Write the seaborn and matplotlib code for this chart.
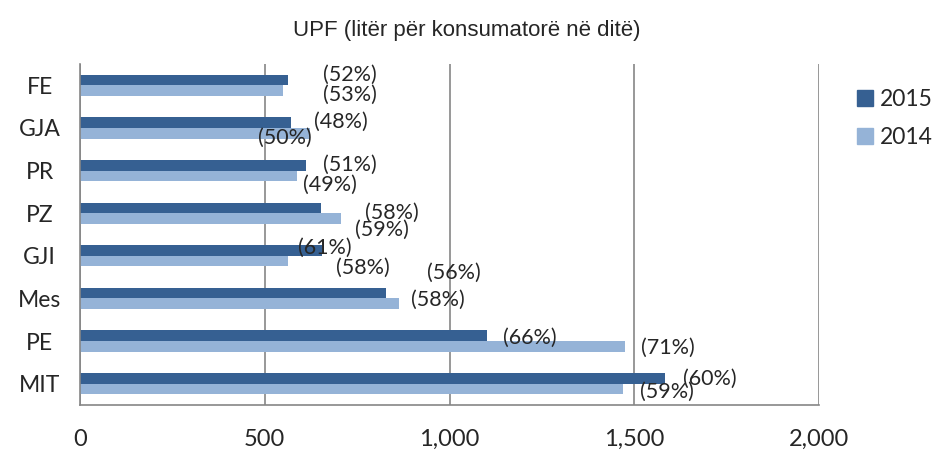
"""UPF sipas rajoneve, 2015 kundrejt 2014 (shiritat horizontalë)."""

import pandas as pd
import matplotlib.pyplot as plt
import seaborn as sns
import numpy as np

# Të dhënat
regjionet = ["FE", "GJA", "PR", "PZ", "GJI", "Mes", "PE", "MIT"]
vitet = ["2015", "2014"]
upf_2015 = [563, 571, 612, 652, 654, 828, 1100, 1583]
upf_2014 = [549, 622, 587, 706, 564, 862, 1475, 1469]
pct_2015 = [52, 48, 51, 58, 61, 56, 66, 60]
pct_2014 = [53, 50, 49, 59, 58, 58, 71, 59]
x_ticks = [0, 500, 1000, 1500, 2000]

# Zhvendosja e etiketave nga fundi i shiritit (piksel: djathtas, poshtë)
off_2015 = [(35, -5), (23, -1), (17, 0), (44, 5), (-24, -3), (41, -20), (16, 2), (18, 0)]
off_2014 = [(40, 4), (-52, 5), (6, 9), (14, 11), (48, 7), (12, -4), (16, 1), (17, 3)]

ngjyrat = {"2015": "#366092", "2014": "#95B3D7"}
gri = "#868686"

df = pd.DataFrame({
    "Rajoni": regjionet * 2,
    "Viti": ["2015"] * len(regjionet) + ["2014"] * len(regjionet),
    "UPF": upf_2015 + upf_2014,
})

sns.set_style("white")
plt.rcParams["font.family"] = ["Lato", "DejaVu Sans"]

fig = plt.figure(figsize=(9.34, 4.51), dpi=100)
ax = fig.add_axes([0.0857, 0.102, 0.7913, 0.756])

sns.barplot(data=df, y="Rajoni", x="UPF", hue="Viti", hue_order=vitet,
            order=regjionet, orient="h", width=0.5, palette=ngjyrat,
            saturation=1, linewidth=0, errorbar=None, legend=False, ax=ax)

ax.set_xlim(0, 2000)
ax.set_ylim(7.5, -0.5)
ax.set_xticks(x_ticks)
ax.set_xticklabels([f"{v:,}" for v in x_ticks], fontsize=17)
ax.set_yticks(range(len(regjionet)))
ax.set_yticklabels(regjionet, fontsize=16.5, ha="center")
ax.set_yticks(np.arange(-0.5, len(regjionet)), minor=True)
ax.tick_params(axis="y", which="major", length=0, pad=29)
ax.tick_params(axis="y", which="minor", length=5, width=1.2, color=gri, direction="out")
ax.tick_params(axis="x", length=0, pad=17)
ax.set_xlabel("")
ax.set_ylabel("")

ax.grid(axis="x", color=gri, linewidth=1.2)
ax.set_axisbelow(True)
for lado in ["top", "right"]:
    ax.spines[lado].set_visible(False)
for lado in ["left", "bottom"]:
    ax.spines[lado].set_color(gri)
    ax.spines[lado].set_linewidth(1.2)

# Etiketat me përqindje
for cont, pcts, offs in [(ax.containers[0], pct_2015, off_2015),
                         (ax.containers[1], pct_2014, off_2014)]:
    for bar, p, (dx, dy) in zip(cont, pcts, offs):
        ax.annotate(f"({p}%)", xy=(bar.get_width(), bar.get_y() + bar.get_height() / 2),
                    xytext=(dx, -dy), textcoords="offset pixels", ha="left",
                    va="center", fontsize=15.5, annotation_clip=False)

handles = [plt.Rectangle((0, 0), 1, 1, color=ngjyrat[v]) for v in vitet]
fig.legend(handles, vitet, loc="center left", bbox_to_anchor=(0.9176, 0.738),
           frameon=False, fontsize=16.5, handlelength=0.7, handleheight=0.7,
           handletextpad=0.3, labelspacing=0.74, borderaxespad=0, borderpad=0)

fig.suptitle("UPF (litër për konsumatorë në ditë)", y=0.956, fontsize=16,
             family="Liberation Sans")

fig.savefig("out.png", dpi=100)
